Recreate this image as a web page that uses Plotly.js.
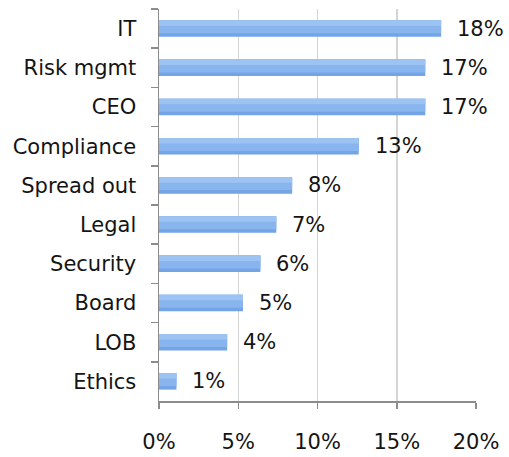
<!DOCTYPE html>
<html>
<head>
<meta charset="utf-8">
<script src="https://cdn.plot.ly/plotly-3.0.1.min.js"></script>
<style>html,body{margin:0;padding:0;background:#fff;}#chart{width:509px;height:457px;}</style>
</head>
<body>
<div id="chart"></div>
<script>
const categories = ["IT", "Risk mgmt", "CEO", "Compliance", "Spread out", "Legal", "Security", "Board", "LOB", "Ethics"];
const values = [17.8, 16.8, 16.8, 12.6, 8.4, 7.4, 6.4, 5.3, 4.3, 1.1];
const valueLabels = ["18%", "17%", "17%", "13%", "8%", "7%", "6%", "5%", "4%", "1%"];
const xTickVals = [0, 5, 10, 15, 20];
const xTickText = ["0%", "5%", "10%", "15%", "20%"];

const font = {family: "DejaVu Sans, Arial, sans-serif", size: 21, color: "#141414"};

// layered bars to imitate the vertical gradient of the original
function layer(color, width, offset) {
  return {
    type: "bar", orientation: "h", y: categories, x: values,
    width: width, offset: offset,
    marker: {color: color, line: {width: 0}},
    hoverinfo: "none"
  };
}
const traces = [
  layer("#72a4e6", 0.42, -0.21),
  layer("#88b5ee", 0.33, -0.21),
  layer("#9dc3f2", 0.14, -0.21)
];

const annotations = categories.map((c, i) => ({
  x: values[i], y: c, xref: "x", yref: "y",
  text: valueLabels[i], showarrow: false,
  xanchor: "left", yanchor: "middle", xshift: 14,
  font: font
}));

const layout = {
  width: 509, height: 457,
  margin: {l: 159, r: 33, t: 9, b: 56, pad: 0},
  paper_bgcolor: "#ffffff", plot_bgcolor: "#ffffff",
  font: font,
  showlegend: false,
  barmode: "overlay",
  xaxis: {
    range: [0, 20], tickvals: xTickVals, ticktext: xTickText,
    showgrid: true, gridcolor: "#d4d4d4", gridwidth: 1.5,
    zeroline: false, showline: true, linecolor: "#8c8c8c", linewidth: 1.5,
    ticks: "outside", ticklen: 6, tickcolor: "#8c8c8c", tickwidth: 1.5,
    ticklabelstandoff: 15, tickfont: font, fixedrange: true
  },
  yaxis: {
    type: "category", autorange: "reversed",
    showgrid: false, zeroline: false, showline: true, linecolor: "#8c8c8c", linewidth: 1.5,
    ticks: "outside", tickson: "boundaries", ticklen: 7, tickcolor: "#8c8c8c", tickwidth: 1.5,
    ticklabelstandoff: 17, tickfont: font, fixedrange: true
  },
  annotations: annotations
};

Plotly.newPlot("chart", traces, layout, {displayModeBar: false, staticPlot: true});
</script>
</body>
</html>
